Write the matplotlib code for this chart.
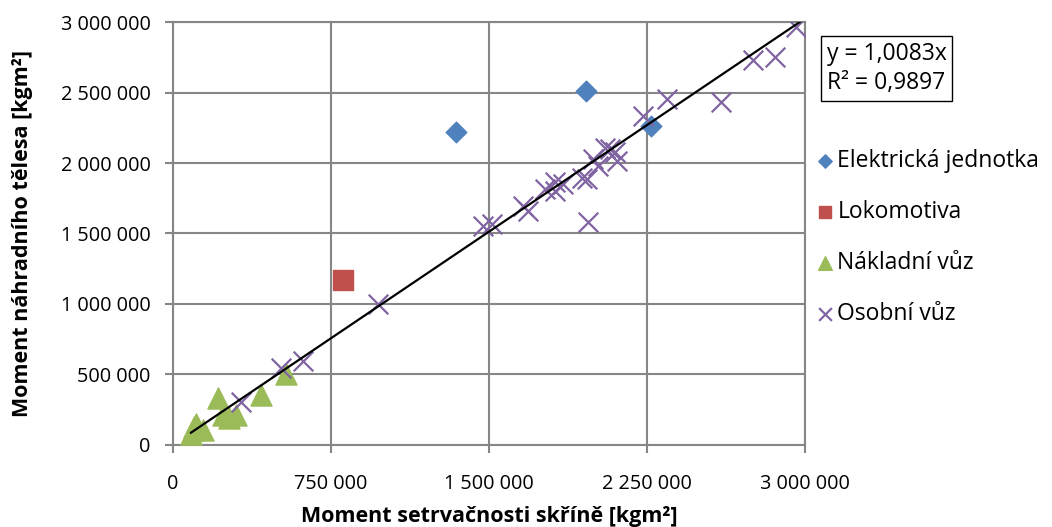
import numpy as np
import matplotlib
matplotlib.use("Agg")
import matplotlib.pyplot as plt
from matplotlib.ticker import FixedLocator

plt.rcParams['font.family'] = ['Open Sans', 'DejaVu Sans']

# data
el_x = [1343000, 1961000, 2272000]
el_y = [2220000, 2510000, 2263000]

lok_x = [806000]
lok_y = [1168000]

nak_x = [215000, 420000, 535000, 110000, 143000, 95000, 237000, 300000, 268000, 85000, 100000]
nak_y = [335000, 350000, 505000, 150000, 105000, 105000, 210000, 210000, 187000, 80000, 125000]

oso_x = [323000, 511000, 619000, 975000,
         1473000, 1513000, 1663000, 1687000, 1766000, 1813000, 1813000, 1853000,
         1940000, 1964000, 1971000, 1995000, 2019000, 2051000, 2074000, 2098000,
         2106000, 2233000, 2344000, 2601000, 2752000, 2858000, 2960000]
oso_y = [307000, 548000, 595000, 998000,
         1553000, 1566000, 1695000, 1660000, 1814000, 1802000, 1862000, 1850000,
         1897000, 1885000, 1578000, 2027000, 1980000, 2110000, 2098000, 2075000,
         2015000, 2334000, 2453000, 2430000, 2732000, 2749000, 2962000]

slope = 1.0083
r2 = 0.9897

x_ticks = [0, 750000, 1500000, 2250000, 3000000]
y_ticks = [0, 500000, 1000000, 1500000, 2000000, 2500000, 3000000]


def fmt(v):
    return f"{v:,}".replace(",", " ")


grid_c = '#868686'

fig = plt.figure(figsize=(10.52, 5.27), dpi=100)
ax = fig.add_axes([0.1645, 0.156, 0.6005, 0.802])

ax.scatter(el_x, el_y, marker='D', s=110, color='#4F81BD', zorder=3, label='Elektrická jednotka')
ax.scatter(lok_x, lok_y, marker='s', s=200, color='#C0504D', zorder=3, label='Lokomotiva')
ax.scatter(nak_x, nak_y, marker='^', s=230, color='#9BBB59', zorder=3, label='Nákladní vůz')
ax.scatter(oso_x, oso_y, marker='x', s=200, color='#8064A2', linewidths=1.6, zorder=3, label='Osobní vůz')

all_x = np.array(el_x + lok_x + nak_x + oso_x)
lx = np.array([all_x.min(), all_x.max() * 1.01])
ax.plot(lx, slope * lx, color='black', lw=1.6, zorder=4)

ax.set_xlim(0, 3000000)
ax.set_ylim(0, 3000000)
ax.xaxis.set_major_locator(FixedLocator(x_ticks))
ax.yaxis.set_major_locator(FixedLocator(y_ticks))
ax.set_xticklabels([fmt(v) for v in x_ticks])
ax.set_yticklabels([fmt(v) for v in y_ticks])
ax.grid(True, color=grid_c, lw=1.5)
ax.set_axisbelow(True)
for s in ax.spines.values():
    s.set_color(grid_c)
    s.set_linewidth(1.5)
ax.tick_params(direction='out', length=6, width=1.5, color=grid_c, labelsize=14.3)
ax.tick_params(axis='x', pad=15)
ax.tick_params(axis='y', pad=10)

ax.set_xlabel('Moment setrvačnosti skříně [kgm²]', fontsize=15.5, fontweight='bold', labelpad=9)
ax.set_ylabel('Moment náhradního tělesa [kgm²]', fontsize=15.5, fontweight='bold', labelpad=20)

leg = ax.legend(loc='upper left', bbox_to_anchor=(0.999, 0.721), frameon=False, fontsize=16.5,
                handletextpad=0.05, labelspacing=1.17, borderaxespad=0, handlelength=1.0,
                markerscale=0.65)

fig.text(0.786, 0.870, f"y = {slope:.4f}x\nR² = {r2:.4f}".replace('.', ','), fontsize=16.5,
         va='center', ha='left', linespacing=1.3,
         bbox=dict(boxstyle='square,pad=0.25', fc='white', ec='black', lw=1))

fig.savefig('out.png', dpi=100)
